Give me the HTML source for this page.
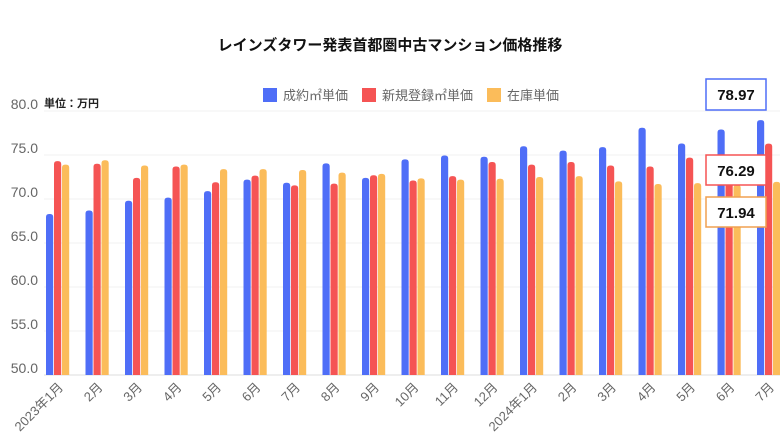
<!DOCTYPE html>
<html><head><meta charset="utf-8"><style>
html,body{margin:0;padding:0;background:#fff;}
svg{display:block;font-family:"Liberation Sans","Noto Sans CJK JP",sans-serif;}
</style></head><body>
<svg id="chart" width="780" height="438" viewBox="0 0 780 438">
<text x="390" y="50" text-anchor="middle" font-size="15" font-weight="bold" fill="#111">レインズタワー発表首都圏中古マンション価格推移</text>
<text x="44" y="107" font-size="11" font-weight="bold" fill="#222">単位：万円</text>
<g id="legend">
<rect x="263" y="88" width="14" height="14" fill="#4f6ef7"/>
<text x="283" y="100" font-size="13" fill="#666">成約㎡単価</text>
<rect x="362" y="88" width="14" height="14" fill="#f55454"/>
<text x="382" y="100" font-size="13" fill="#666">新規登録㎡単価</text>
<rect x="487" y="88" width="14" height="14" fill="#fbbc5a"/>
<text x="507" y="100" font-size="13" fill="#666">在庫単価</text>
</g>
<g id="grid"></g><g id="bars"></g><g id="xlabels"></g>
<g>
<rect x="706" y="79" width="60" height="31" fill="#fff" stroke="#4f6ef7" stroke-width="1.5"/>
<text x="736" y="100" text-anchor="middle" font-size="15" font-weight="bold" fill="#111">78.97</text></g>
<g>
<rect x="706" y="155" width="60" height="30" fill="#fff" stroke="#f55454" stroke-width="1.5"/>
<text x="736" y="176" text-anchor="middle" font-size="15" font-weight="bold" fill="#111">76.29</text></g>
<g>
<rect x="706" y="197" width="60" height="30" fill="#fff" stroke="#f0a050" stroke-width="1.5"/>
<text x="736" y="218" text-anchor="middle" font-size="15" font-weight="bold" fill="#111">71.94</text></g>
</svg>
<script>
const categories=["2023年1月","2月","3月","4月","5月","6月","7月","8月","9月","10月","11月","12月","2024年1月","2月","3月","4月","5月","6月","7月"];
const seiyaku=[68.3,68.7,69.8,70.15,70.9,72.2,71.85,74.05,72.4,74.5,74.95,74.8,76.0,75.5,75.9,78.1,76.3,77.9,78.97];
const shinki=[74.3,74.0,72.4,73.7,71.9,72.65,71.55,71.75,72.7,72.1,72.6,74.2,73.9,74.2,73.8,73.7,74.7,74.9,76.29];
const zaiko=[73.9,74.4,73.8,73.9,73.4,73.4,73.3,73.0,72.85,72.35,72.2,72.3,72.5,72.6,72.0,71.7,71.8,71.6,71.94];
const yTicks=[50,55,60,65,70,75,80];
const NS="http://www.w3.org/2000/svg";
const yMin=50,yMax=80,yTop=111,yBot=375;
const y=v=>yBot-(v-yMin)/(yMax-yMin)*(yBot-yTop);
const x0=46,step=39.5,bw=7.2,gap=8;
const gx=i=>x0+i*step;
function mk(t,a,p){const e=document.createElementNS(NS,t);for(const k in a)e.setAttribute(k,a[k]);p.appendChild(e);return e;}
const grid=document.getElementById('grid');
yTicks.forEach(v=>{
  const l=mk('line',{x1:44,x2:780,y1:y(v),y2:y(v),stroke:v===50?'#ddd':'#f0f0f0','stroke-width':1},grid);
  
  
  const t=mk('text',{x:38,y:y(v)-2,'text-anchor':'end','font-size':14,fill:'#666'},grid);
  t.textContent=v.toFixed(1);
  
  
});
const bars=document.getElementById('bars');
const series=[[seiyaku,'#4f6ef7','seiyaku'],[shinki,'#f55454','shinki'],[zaiko,'#fbbc5a','zaiko']];
function bar(x,v){const t=y(v),r=3;
  return `M${x},${yBot}V${t+r}Q${x},${t} ${x+r},${t}H${x+bw-r}Q${x+bw},${t} ${x+bw},${t+r}V${yBot}Z`;}
categories.forEach((c,i)=>{
  series.forEach((s,j)=>{
    const p=mk('path',{d:bar(gx(i)+j*gap,s[0][i]),fill:s[1]},bars);
    
    
  });
  const cx=gx(i)+18;
  const t=mk('text',{x:cx,y:388,'text-anchor':'end','font-size':13,fill:'#666',transform:`rotate(-45 ${cx} 388)`},document.getElementById('xlabels'));
  t.textContent=c;
  
  
});
</script>
</body></html>
